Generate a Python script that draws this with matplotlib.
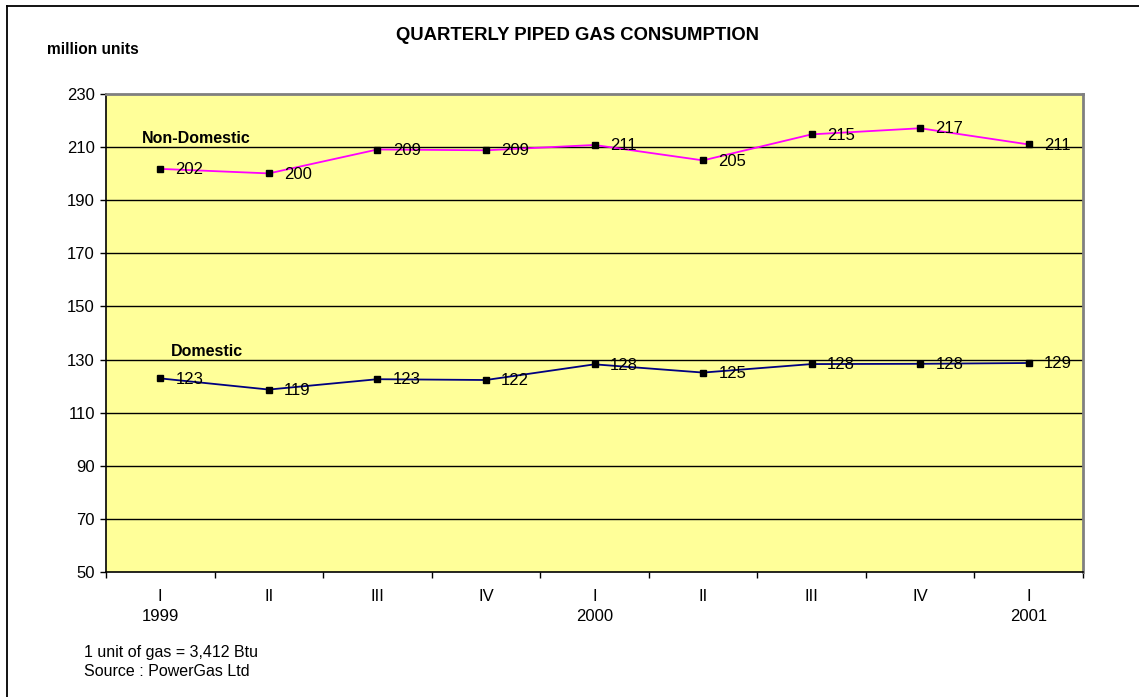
import matplotlib
matplotlib.use("Agg")
import matplotlib.pyplot as plt
from matplotlib.lines import Line2D

plt.rcParams['font.family'] = ['Liberation Sans', 'DejaVu Sans']

quarters = ["I", "II", "III", "IV", "I", "II", "III", "IV", "I"]
years = ["1999", "", "", "", "2000", "", "", "", "2001"]
non_domestic = [201.8, 200.1, 209.1, 208.8, 210.8, 205.0, 214.8, 217.1, 211.0]
domestic = [122.9, 118.7, 122.6, 122.3, 128.2, 125.1, 128.3, 128.4, 128.7]
yticks = [50, 70, 90, 110, 130, 150, 170, 190, 210, 230]

W, H = 1139, 697
fig = plt.figure(figsize=(W / 100, H / 100), dpi=100)
fig.patch.set_facecolor("white")

# outer border (top and left visible)
fig.add_artist(Line2D([7 / W, 7 / W], [0, 1 - 6 / H], transform=fig.transFigure, color="black", lw=1.3))
fig.add_artist(Line2D([7 / W, 1], [1 - 6 / H, 1 - 6 / H], transform=fig.transFigure, color="black", lw=1.3))

left, right, top, bottom = 106, 1083, 94, 572
ax = fig.add_axes([left / W, 1 - bottom / H, (right - left) / W, (bottom - top) / H])
ax.set_facecolor("#FFFF99")

n = len(quarters)
x = list(range(n))
ax.set_xlim(-0.5, n - 0.5)
ax.set_ylim(50, 230)

for y in yticks[1:-1]:
    ax.axhline(y, color="black", lw=1.0, zorder=1)

ax.plot(x, non_domestic, color="#FF00FF", lw=1.3, marker="s", ms=5, mfc="black", mec="black", zorder=3)
ax.plot(x, domestic, color="#000080", lw=1.3, marker="s", ms=5, mfc="black", mec="black", zorder=3)

fs = 12
for xi, v in zip(x, non_domestic):
    ax.annotate(f"{v:.0f}", (xi, v), xytext=(11, -0.5), textcoords="offset points",
                va="center", ha="left", fontsize=fs, zorder=4)
for xi, v in zip(x, domestic):
    ax.annotate(f"{v:.0f}", (xi, v), xytext=(11, -0.5), textcoords="offset points",
                va="center", ha="left", fontsize=fs, zorder=4)

ax.text(-0.17, 210.3, "Non-Domestic", fontsize=11.5, fontweight="bold", va="bottom", ha="left")
ax.text(0.1, 130.3, "Domestic", fontsize=11.5, fontweight="bold", va="bottom", ha="left")

ax.set_yticks(yticks)
ax.set_yticklabels([str(t) for t in yticks], fontsize=fs)
ax.set_xticks([i + 0.5 for i in range(-1, n)])
ax.set_xticklabels([])
ax.tick_params(axis="y", length=4.5, width=1, direction="out", pad=3.5)
ax.tick_params(axis="x", length=4.5, width=1, direction="out")
for xi, (q, yr) in enumerate(zip(quarters, years)):
    lbl = q + ("\n" + yr if yr else "")
    ax.text(xi, 43.5, lbl, ha="center", va="top", fontsize=fs, linespacing=1.4)

for s in ["top", "right"]:
    ax.spines[s].set_color("#808080")
    ax.spines[s].set_linewidth(2)
for s in ["left", "bottom"]:
    ax.spines[s].set_color("black")
    ax.spines[s].set_linewidth(1.2)

fig.text(577 / W, 1 - 36 / H, "QUARTERLY PIPED GAS CONSUMPTION", ha="center", va="center",
         fontsize=13.3, fontweight="bold")
fig.text(47 / W, 1 - 50 / H, "million units", ha="left", va="center", fontsize=11.2, fontweight="bold")
fig.text(84 / W, 1 - 652 / H, "1 unit of gas = 3,412 Btu", ha="left", va="center", fontsize=11.5)
fig.text(84 / W, 1 - 671 / H, "Source : PowerGas Ltd", ha="left", va="center", fontsize=11.5)

fig.savefig("out.png", dpi=100)
